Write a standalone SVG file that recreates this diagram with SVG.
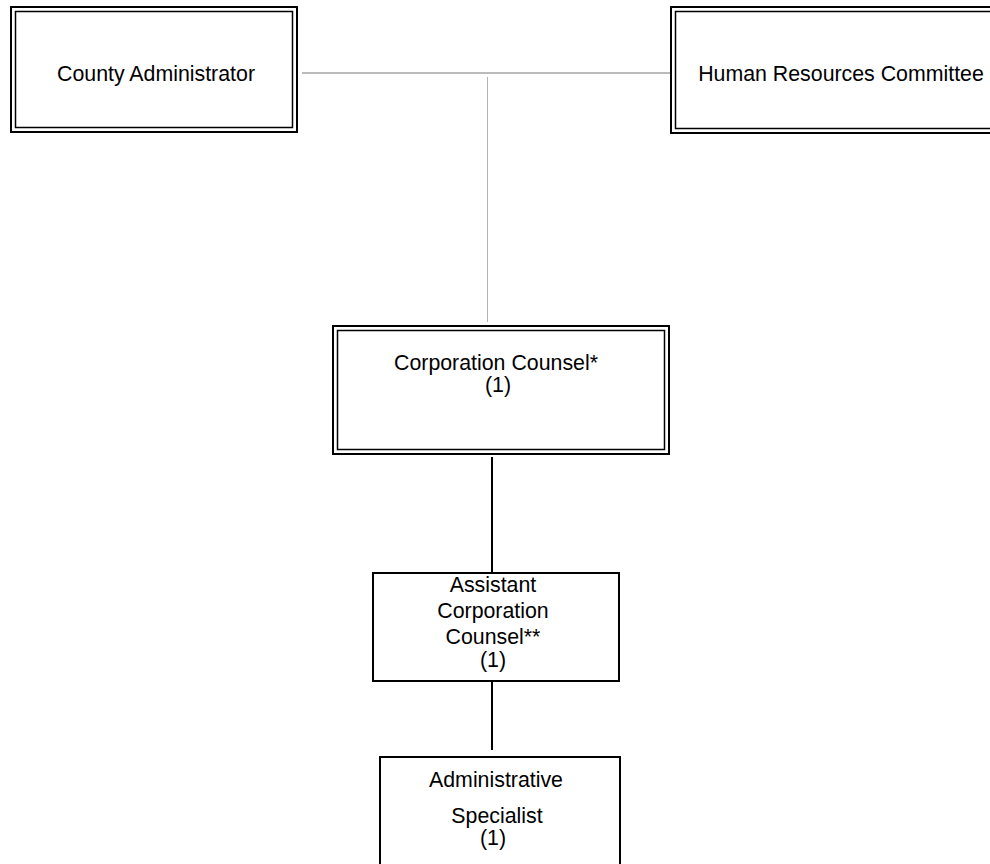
<svg xmlns="http://www.w3.org/2000/svg" width="990" height="864" viewBox="0 0 990 864">
<style>
  .box { fill: #ffffff; stroke: #000000; stroke-width: 2; }
  .inner { fill: none; stroke: #000000; stroke-width: 1.5; }
  .lbl { font-family: "Liberation Sans", Arial, sans-serif; font-size: 21.33px; fill: #000000; text-anchor: middle; }
  .conn-gray { stroke: #777777; stroke-width: 1; fill: none; }
  .conn-light { stroke: #b3b3b3; stroke-width: 1; fill: none; }
  .conn-black { stroke: #000000; stroke-width: 2; fill: none; }
</style>
<rect x="0" y="0" width="990" height="864" fill="#ffffff"/>
<g id="connectors">
  <line class="conn-gray" x1="302" y1="73" x2="670" y2="73"/>
  <line class="conn-light" x1="487.5" y1="77" x2="487.5" y2="322"/>
  <line class="conn-black" x1="492" y1="457" x2="492" y2="573"/>
  <line class="conn-black" x1="492" y1="682" x2="492" y2="750"/>
</g>
<g id="county-administrator">
  <rect class="box" x="11" y="7" width="286" height="125"/>
  <rect class="inner" x="15.5" y="11.5" width="277" height="116"/>
  <text class="lbl" x="156" y="81">County Administrator</text>
</g>
<g id="human-resources-committee">
  <rect class="box" x="671" y="7" width="340" height="126"/>
  <rect class="inner" x="675.5" y="11.5" width="331" height="117"/>
  <text class="lbl" x="841" y="81">Human Resources Committee</text>
</g>
<g id="corporation-counsel">
  <rect class="box" x="333" y="326" width="336" height="128"/>
  <rect class="inner" x="337.5" y="330.5" width="327" height="119"/>
  <text class="lbl" x="496" y="370">Corporation Counsel*</text>
  <text class="lbl" x="498" y="392">(1)</text>
</g>
<g id="assistant-corporation-counsel">
  <rect class="box" x="373" y="573" width="246" height="108"/>
  <text class="lbl" x="493" y="592">Assistant</text>
  <text class="lbl" x="493" y="618">Corporation</text>
  <text class="lbl" x="493" y="644">Counsel**</text>
  <text class="lbl" x="493" y="667">(1)</text>
</g>
<g id="administrative-specialist">
  <rect class="box" x="380" y="757" width="240" height="120"/>
  <text class="lbl" x="496" y="787">Administrative</text>
  <text class="lbl" x="497" y="823">Specialist</text>
  <text class="lbl" x="493" y="845">(1)</text>
</g>
</svg>
